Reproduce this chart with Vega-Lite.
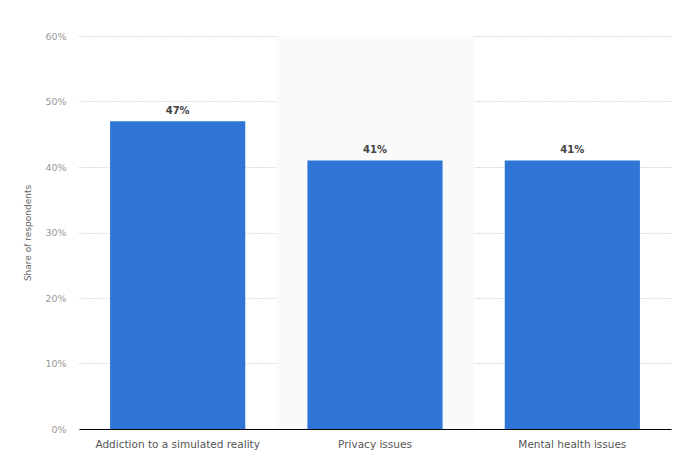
{
  "$schema": "https://vega.github.io/schema/vega-lite/v6.json",
  "width": 592,
  "height": 393,
  "autosize": {"type": "none"},
  "padding": {"left": 79, "top": 36, "right": 7, "bottom": 40},
  "config": {
    "view": {"stroke": null},
    "font": "DejaVu Sans"
  },
  "data": {
    "values": [
      {"issue": "Addiction to a simulated reality", "share": 0.47, "highlight": 0},
      {"issue": "Privacy issues", "share": 0.41, "highlight": 0.6},
      {"issue": "Mental health issues", "share": 0.41, "highlight": 0}
    ]
  },
  "encoding": {
    "x": {
      "field": "issue",
      "type": "nominal",
      "sort": null,
      "scale": {"paddingInner": 0.315, "paddingOuter": 0.1575},
      "axis": {
        "title": null,
        "labelAngle": 0,
        "labelFontSize": 10.5,
        "labelColor": "#555555",
        "labelPadding": 10,
        "ticks": false,
        "domainColor": "#000000",
        "domainWidth": 1.2
      }
    }
  },
  "layer": [
    {
      "mark": {"type": "bar", "color": "#fafafa", "width": {"band": 1.46}},
      "encoding": {
        "y": {
          "field": "highlight",
          "type": "quantitative",
          "scale": {"domain": [0, 0.6]},
          "axis": {
            "title": "Share of respondents",
            "titleFontSize": 9,
            "titleFontWeight": "normal",
            "titleColor": "#666666",
            "titlePadding": 12,
            "values": [0, 0.1, 0.2, 0.3, 0.4, 0.5, 0.6],
            "format": ".0%",
            "labelFontSize": 9.5,
            "labelColor": "#999999",
            "labelPadding": 13,
            "ticks": false,
            "domain": false,
            "gridDash": [1, 2],
            "gridColor": "#bbbbbb"
          }
        }
      }
    },
    {
      "mark": {"type": "bar", "color": "#2e75d6"},
      "encoding": {
        "y": {"field": "share", "type": "quantitative"}
      }
    },
    {
      "mark": {"type": "text", "dy": -10, "fontSize": 10, "fontWeight": "bold", "color": "#444444"},
      "encoding": {
        "y": {"field": "share", "type": "quantitative"},
        "text": {"field": "share", "type": "quantitative", "format": ".0%"}
      }
    }
  ]
}
